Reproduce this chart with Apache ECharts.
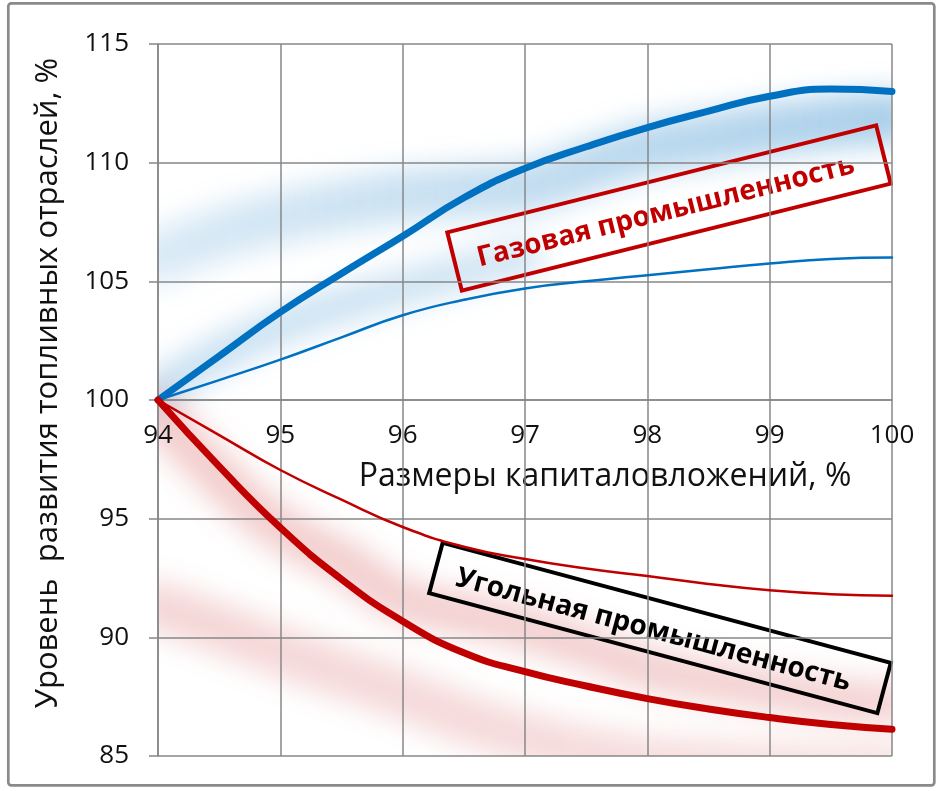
<!DOCTYPE html>
<html><head><meta charset="utf-8">
<script src="https://cdn.jsdelivr.net/npm/echarts@6/dist/echarts.min.js"></script>
<style>
html,body{margin:0;padding:0;background:#fff;}
#wrap{position:relative;width:941px;height:791px;overflow:hidden;}
#haze,#main{position:absolute;left:0;top:0;width:941px;height:791px;}
#haze{filter:blur(14px);clip-path:inset(44px 49px 35px 158px);}
</style></head><body>
<div id="wrap"><div id="haze"></div><div id="main"></div></div>
<script>
// ---- data ----
const xValues = [94, 94.5, 95, 95.5, 96, 96.5, 97, 97.5, 98, 98.5, 99, 99.5, 100];
const xTicks = [94, 95, 96, 97, 98, 99, 100];
const yTicks = [85, 90, 95, 100, 105, 110, 115];
const gasMain  = [100, 101.85, 103.7, 105.33, 106.9, 108.52, 109.76, 110.67, 111.48, 112.17, 112.8, 113.1, 113.0];
const gasThin  = [100, 100.84, 101.7, 102.64, 103.57, 104.22, 104.7, 105.0, 105.26, 105.51, 105.75, 105.94, 106.0];
const coalThin = [100, 98.52, 97.05, 95.8, 94.65, 93.82, 93.3, 92.9, 92.58, 92.25, 91.98, 91.82, 91.75];
const coalMain = [100, 97.2, 94.62, 92.45, 90.68, 89.35, 88.55, 87.95, 87.42, 86.98, 86.62, 86.33, 86.13];
// soft shaded bands (centre lines)
const gasBandUpper  = [106.0, 107.0, 107.7, 108.2, 108.6, 108.8, 109.0, 109.8, 110.6, 111.0, 111.4, 111.7, 111.9];
const gasBandLowerX = [94, 94.5, 95, 95.5, 96, 96.5, 97];
const gasBandLower  = [100.4, 101.9, 103.1, 104.0, 104.7, 105.4, 106.0];
const coalBandUpper = [99.5, 96.8, 94.6, 93.2, 91.6, 91.0, 90.4, 89.6, 88.7, 88.2, 87.8, 87.4, 87.2];
const coalBandLower = [91.3, 90.4, 89.4, 88.5, 87.6, 86.6, 85.8, 85.2, 84.8, 84.6, 84.5, 84.4, 84.4];

const yTitle = 'Уровень  развития топливных отраслей, %';
const xTitle = 'Размеры капиталовложений, %';
const gasLabel = 'Газовая промышленность';
const coalLabel = 'Угольная промышленность';

const pairs = (xs, ys) => xs.map((x, i) => [x, ys[i]]);

const FONT = '"Open Sans", "DejaVu Sans", sans-serif';
const GRID = {left: 158, right: 49, top: 44, bottom: 35};
const GRIDC = '#878787';
const BLUE = '#0070C0', RED = '#C00000';

// ---- haze layer ----
const haze = echarts.init(document.getElementById('haze'), null, {renderer: 'canvas'});
function grad(a0, a1, rgb) {
  return {type: 'linear', x: 0, y: 0, x2: 1, y2: 0, colorStops: [
    {offset: 0, color: 'rgba(' + rgb + ',' + a0 + ')'},
    {offset: 1, color: 'rgba(' + rgb + ',' + a1 + ')'}]};
}
function band(xs, ys, color, width) {
  return {type: 'line', data: pairs(xs, ys), smooth: 0.5, symbol: 'none', silent: true,
    lineStyle: {color: color, width: width, cap: 'round'}};
}
haze.setOption({
  animation: false,
  grid: GRID,
  xAxis: {type: 'value', min: 94, max: 100, show: false},
  yAxis: {type: 'value', min: 85, max: 115, show: false},
  series: [
    band(xValues, gasBandUpper, grad(0.14, 0.34, '0,112,192'), 52),
    band(gasBandLowerX, gasBandLower, grad(0.22, 0.18, '0,112,192'), 36),
    band(xValues, coalBandUpper, grad(0.2, 0.17, '192,0,0'), 44),
    band(xValues, coalBandLower, grad(0.16, 0.12, '192,0,0'), 50)
  ]
});

// ---- main layer ----
const chart = echarts.init(document.getElementById('main'), null, {renderer: 'canvas'});
const plotH = 791 - GRID.top - GRID.bottom;
function line(ys, color, width, z) {
  return {type: 'line', data: pairs(xValues, ys), smooth: 0.5, symbol: 'none', z: z,
    lineStyle: {color: color, width: width, cap: 'round', join: 'round'}};
}
chart.setOption({
  animation: false,
  backgroundColor: 'transparent',
  grid: GRID,
  xAxis: {
    type: 'value', min: xTicks[0], max: xTicks[xTicks.length - 1], interval: 1,
    position: 'bottom', offset: -plotH / 2,
    axisLine: {show: true, lineStyle: {color: GRIDC, width: 1.5}},
    axisTick: {show: false},
    axisLabel: {margin: 23, fontSize: 26, fontFamily: FONT, color: '#111'},
    splitLine: {show: true, lineStyle: {color: GRIDC, width: 1.5}}
  },
  yAxis: {
    type: 'value', min: yTicks[0], max: yTicks[yTicks.length - 1], interval: 5,
    axisLine: {show: true, lineStyle: {color: GRIDC, width: 1.5}},
    axisTick: {show: true, length: 9, lineStyle: {color: GRIDC, width: 1.5}},
    axisLabel: {margin: 29, fontSize: 26, fontFamily: FONT, color: '#111'},
    splitLine: {show: true, lineStyle: {color: GRIDC, width: 1.5}}
  },
  series: [
    line(gasThin, BLUE, 2.5, 3),
    line(coalThin, RED, 2.5, 3),
    line(gasMain, BLUE, 7, 4),
    line(coalMain, RED, 7, 4)
  ],
  graphic: [
    {type: 'rect', shape: {x: 8.3, y: 3.3, width: 926, height: 782, r: 3},
     style: {fill: 'none', stroke: '#8a8a8a', lineWidth: 2.7}, silent: true},
    {type: 'text', x: 48, y: 383, rotation: Math.PI / 2,
     style: {text: yTitle, font: '31px ' + FONT, fill: '#111', align: 'center', verticalAlign: 'middle', textAlign: 'center', textVerticalAlign: 'middle'}},
    {type: 'text', x: 605, y: 477,
     style: {text: xTitle, font: '32px ' + FONT, fill: '#111', align: 'center', verticalAlign: 'middle', textAlign: 'center', textVerticalAlign: 'middle'}},
    {type: 'group', x: 669, y: 208, rotation: 14 * Math.PI / 180, children: [
      {type: 'rect', shape: {x: -221, y: -30, width: 442, height: 60},
       style: {fill: 'none', stroke: RED, lineWidth: 4}},
      {type: 'text', x: -4, y: 3,
       style: {text: gasLabel, font: 'bold 28px ' + FONT, fill: RED, align: 'center', verticalAlign: 'middle', textAlign: 'center', textVerticalAlign: 'middle'}}
    ]},
    {type: 'group', x: 660, y: 628, rotation: -15 * Math.PI / 180, children: [
      {type: 'rect', shape: {x: -232, y: -26, width: 464, height: 52},
       style: {fill: 'none', stroke: '#000', lineWidth: 4}},
      {type: 'text', x: -6, y: 4,
       style: {text: coalLabel, font: 'bold 28px ' + FONT, fill: '#000', align: 'center', verticalAlign: 'middle', textAlign: 'center', textVerticalAlign: 'middle'}}
    ]}
  ]
});
</script>
</body></html>
